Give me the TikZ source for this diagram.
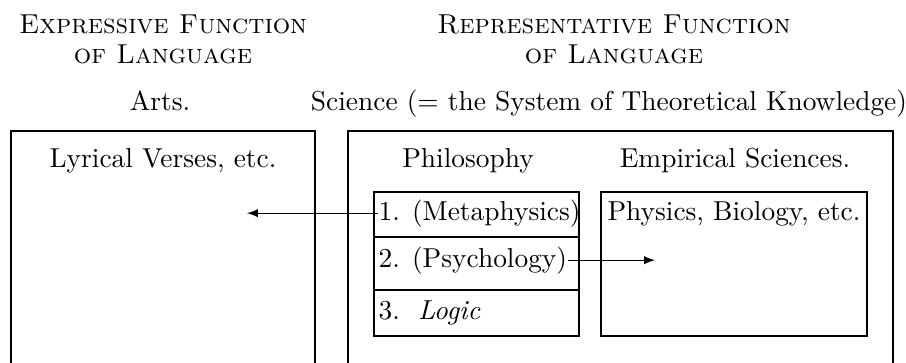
\documentclass[tikz,border=0pt]{standalone}
\usetikzlibrary{positioning}
\begin{document}
\begin{tikzpicture}[x=0.365pt,y=-0.365pt,
    lbl/.style={anchor=base,inner sep=0pt},
    item/.style={anchor=base west,inner sep=0pt},
    link/.style={-latex}]
% ===== frame =====
\useasboundingbox (0,0) rectangle (906,362);
\clip (0,0) rectangle (906,362);

% ===== headings =====
\node[lbl] (exphead) at (163,33) {\textsc{Expressive Function}};
\node[lbl] (explang) at (163,63) {\textsc{of Language}};
\node[lbl] (rephead) at (614,33) {\textsc{Representative Function}};
\node[lbl] (replang) at (614,63) {\textsc{of Language}};
\node[lbl] (arts) at (160,110) {Arts.};
\node[lbl] (science) at (609,110) {Science (= the System of Theoretical Knowledge)};

% ===== outer boxes =====
\draw (11,131) rectangle (315,400);
\draw (348,131) rectangle (893,400);
\node[lbl] (lyric) at (163,167) {Lyrical Verses, etc.};
\node[lbl] (philo) at (468,167) {Philosophy};
\node[lbl] (empir) at (735,167) {Empirical Sciences.};

% ===== philosophy =====
\draw (374,192) rectangle (579,336);
\draw (374,237) -- (579,237);
\draw (374,290) -- (579,290);
\node[item] (meta) at (378,220) {1. (Metaphysics)};
\node[item] (psych) at (378,267) {2. (Psychology)};
\node[item] (logic) at (378,319) {3.\ \ \textit{Logic}};

% ===== empirical sciences =====
\draw (601,192) rectangle (867,336);
\node[lbl] (phys) at (734,220) {Physics, Biology, etc.};

% ===== arrows =====
\coordinate (tipleft) at (247,214);
\coordinate (tipright) at (655,259);
\draw[link] (meta.west) -- (meta.west -| tipleft);
\draw[link] (psych.east) -- (psych.east -| tipright);
\end{tikzpicture}
\end{document}
